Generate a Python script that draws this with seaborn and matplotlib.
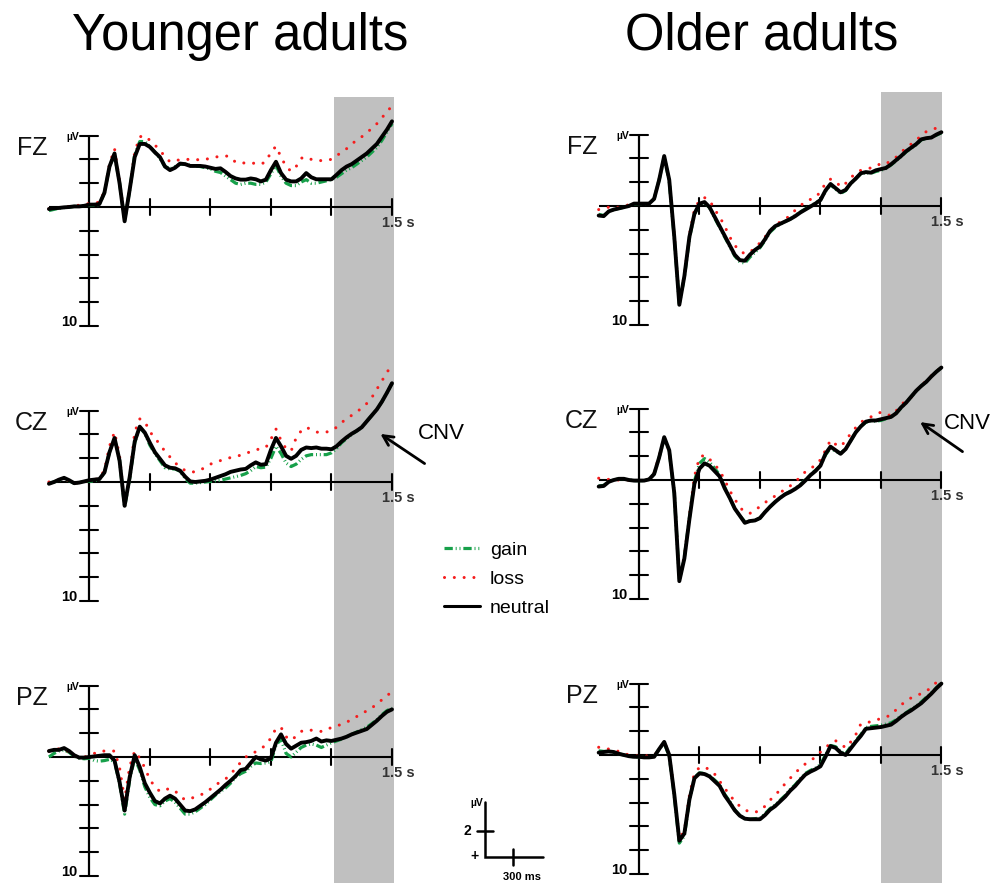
import matplotlib
matplotlib.use("Agg")
import matplotlib.pyplot as plt
from matplotlib.lines import Line2D
import numpy as np
import pandas as pd
import seaborn as sns

sns.set_style("white")
plt.rcParams["font.family"] = ["Liberation Sans", "DejaVu Sans"]
plt.rcParams["text.color"] = "black"

# ---------------- data ----------------
TIMES_MS = list(range(-200, 1525, 25))          # sample times (ms)
CONDITIONS = ["gain", "loss", "neutral"]
GROUPS = ["Younger adults", "Older adults"]
CHANNELS = ["FZ", "CZ", "PZ"]

# amplitudes in µV (negative plotted upward)
YF_gain = [0.3, 0.2, 0.1, 0.05, 0.0, -0.05, -0.05, -0.1, -0.15, -0.15,
           -0.2, -1.2, -3.4, -4.4, -2.0, 1.1, -1.4, -4.4, -5.5, -5.5,
           -5.1, -4.6, -4.1, -3.4, -3.2, -3.4, -3.6, -3.6, -3.5, -3.45,
           -3.4, -3.3, -3.2, -3.0, -2.9, -2.6, -2.3, -2.0, -1.9, -2.0,
           -2.0, -1.9, -1.9, -2.1, -2.8, -3.5, -2.6, -2.0, -1.8, -1.8,
           -2.1, -2.3, -2.0, -2.0, -2.1, -2.2, -2.3, -2.5, -2.8, -3.1,
           -3.3, -3.6, -3.9, -4.2, -4.6, -5.0, -5.6, -6.3, -7.0]
YF_loss = [0.15, 0.1, 0.05, 0.0, -0.05, -0.1, -0.15, -0.2, -0.3, -0.35,
           -0.4, -1.3, -3.6, -4.9, -2.2, 1.1, -1.5, -4.6, -5.9, -6.0,
           -5.6, -5.2, -4.8, -4.2, -3.8, -3.85, -4.0, -4.0, -4.0, -4.0,
           -3.95, -4.0, -4.1, -4.2, -4.25, -4.3, -4.2, -3.75, -3.7, -3.7,
           -3.65, -3.7, -3.6, -3.8, -4.6, -5.1, -4.2, -3.4, -3.0, -3.4,
           -4.1, -4.2, -4.0, -3.9, -3.9, -3.95, -4.0, -4.3, -4.6, -4.9,
           -5.3, -5.6, -5.9, -6.25, -6.6, -7.0, -7.5, -8.0, -8.5]
YF_neutral = [0.17, 0.1, 0.08, 0.03, 0.0, -0.05, -0.05, -0.1, -0.2, -0.2,
              -0.25, -1.2, -3.4, -4.5, -2.0, 1.2, -1.45, -4.2, -5.3, -5.3,
              -5.05, -4.6, -4.2, -3.4, -3.1, -3.3, -3.65, -3.6, -3.45, -3.45,
              -3.45, -3.4, -3.3, -3.2, -3.25, -2.95, -2.6, -2.4, -2.3, -2.3,
              -2.4, -2.33, -2.15, -2.3, -3.1, -3.8, -2.85, -2.3, -2.15, -2.15,
              -2.4, -2.85, -2.5, -2.33, -2.33, -2.33, -2.33, -2.7, -3.1, -3.4,
              -3.6, -3.9, -4.2, -4.5, -4.9, -5.3, -5.9, -6.5, -7.2]

OF_gain = [0.7, 0.8, 0.5, 0.3, 0.2, 0.1, 0.0, -0.15, -0.2, -0.2,
           -0.2, -0.6, -2.2, -4.1, -2.1, 2.7, 8.2, 6.0, 2.7, 0.7,
           -0.15, -0.3, 0.15, 1.0, 1.8, 2.6, 3.4, 4.2, 4.7, 4.8,
           4.3, 3.9, 3.5, 2.9, 2.2, 1.8, 1.55, 1.3, 1.1, 0.8,
           0.5, 0.25, 0.0, -0.25, -0.5, -1.25, -1.8, -1.4, -1.05, -1.3,
           -1.9, -2.3, -2.7, -2.8, -2.75, -2.9, -3.0, -3.15, -3.45, -3.8,
           -4.15, -4.55, -4.85, -5.15, -5.55, -5.7, -5.75, -5.95, -6.15]
OF_loss = [0.3, 0.2, 0.1, 0.15, 0.1, 0.0, -0.1, -0.2, -0.2, -0.2,
           -0.2, -0.6, -2.2, -4.1, -2.1, 2.4, 7.9, 5.8, 2.4, 0.3,
           -0.5, -0.7, -0.5, 0.3, 0.9, 1.7, 2.6, 3.3, 3.8, 4.0,
           3.9, 3.5, 3.1, 2.6, 2.1, 1.6, 1.35, 1.1, 0.8, 0.35,
           0.0, -0.4, -0.55, -0.7, -1.2, -1.9, -2.25, -2.1, -1.6, -1.9,
           -2.4, -2.7, -3.0, -3.1, -3.2, -3.3, -3.6, -3.55, -3.8, -4.1,
           -4.5, -4.9, -5.2, -5.5, -5.95, -6.25, -6.4, -6.55, -6.7]
OF_neutral = [0.8, 0.85, 0.45, 0.3, 0.2, 0.1, 0.0, -0.2, -0.2, -0.2,
              -0.2, -0.6, -2.2, -4.2, -2.2, 2.6, 8.3, 5.9, 2.6, 0.65,
              -0.2, -0.33, 0.1, 0.9, 1.7, 2.5, 3.3, 4.1, 4.55, 4.6,
              4.1, 3.7, 3.4, 2.8, 2.1, 1.7, 1.5, 1.3, 1.1, 0.85,
              0.55, 0.3, 0.05, -0.2, -0.5, -1.3, -1.85, -1.5, -1.15, -1.35,
              -1.9, -2.3, -2.75, -2.85, -2.8, -3.0, -3.1, -3.2, -3.5, -3.85,
              -4.2, -4.6, -4.9, -5.2, -5.6, -5.7, -5.75, -6.0, -6.2]

YC_gain = [0.1, 0.0, -0.15, -0.3, -0.1, 0.1, 0.05, -0.05, -0.05, -0.1,
           -0.2, -0.8, -2.5, -3.6, -1.8, 2.1, -0.3, -3.3, -4.6, -4.1,
           -3.1, -2.4, -1.8, -1.2, -1.1, -1.1, -0.9, -0.3, 0.1, 0.1,
           0.05, 0.0, -0.05, -0.1, -0.15, -0.25, -0.35, -0.45, -0.55, -0.7,
           -0.95, -1.3, -1.2, -1.25, -2.0, -3.0, -2.4, -1.6, -1.3, -1.5,
           -1.9, -2.2, -2.3, -2.3, -2.3, -2.3, -2.45, -2.8, -3.3, -3.65,
           -4.0, -4.3, -4.6, -5.1, -5.6, -6.1, -6.75, -7.5, -8.3]
YC_loss = [0.0, -0.1, -0.2, -0.3, -0.1, 0.1, 0.05, -0.05, -0.1, -0.2,
           -0.3, -1.0, -3.0, -4.2, -2.2, 2.0, -0.4, -4.2, -5.3, -5.1,
           -4.2, -3.75, -3.1, -2.6, -2.1, -1.6, -1.3, -0.95, -0.85, -0.85,
           -1.0, -1.25, -1.5, -1.65, -1.8, -1.95, -2.05, -2.15, -2.25, -2.4,
           -2.55, -2.7, -2.8, -2.9, -3.6, -4.45, -3.5, -2.8, -2.6, -3.7,
           -4.3, -4.6, -4.4, -4.2, -4.15, -4.2, -4.3, -4.6, -5.0, -5.3,
           -5.6, -5.9, -6.2, -6.6, -7.1, -7.8, -8.5, -9.2, -9.9]
YC_neutral = [0.15, 0.0, -0.2, -0.35, -0.15, 0.1, 0.05, -0.05, -0.15, -0.2,
              -0.25, -0.8, -2.5, -3.7, -1.8, 2.0, -0.4, -3.4, -4.65, -4.15,
              -3.3, -2.5, -1.95, -1.4, -1.2, -1.15, -0.95, -0.45, -0.05, 0.0,
              -0.05, -0.1, -0.2, -0.35, -0.5, -0.65, -0.85, -0.95, -1.05, -1.1,
              -1.4, -1.65, -1.45, -1.5, -2.7, -3.7, -3.0, -2.2, -1.95, -2.2,
              -2.7, -2.9, -2.85, -2.9, -2.8, -2.8, -2.75, -3.0, -3.4, -3.75,
              -4.05, -4.3, -4.6, -5.1, -5.6, -6.1, -6.75, -7.5, -8.3]

OC_gain = [0.5, 0.45, 0.15, 0.0, -0.1, -0.1, 0.0, 0.05, 0.05, 0.05,
           -0.05, -0.5, -1.9, -3.5, -2.4, 1.1, 8.4, 6.5, 3.2, 0.1,
           -1.4, -1.8, -1.5, -1.0, -0.4, 0.6, 1.5, 2.4, 3.0, 3.5,
           3.45, 3.4, 3.2, 2.7, 2.25, 1.85, 1.5, 1.2, 0.95, 0.7,
           0.4, 0.0, -0.45, -0.8, -1.2, -2.1, -2.7, -2.4, -2.25, -2.6,
           -3.3, -4.0, -4.5, -4.85, -4.95, -4.95, -5.0, -5.15, -5.3, -5.6,
           -6.05, -6.5, -7.0, -7.45, -7.9, -8.25, -8.7, -9.1, -9.45]
OC_loss = [-0.15, -0.1, -0.05, 0.0, 0.0, 0.0, 0.0, 0.0, 0.05, 0.05,
           -0.1, -0.6, -2.0, -3.6, -2.4, 1.1, 8.2, 6.4, 3.0, -0.3,
           -1.9, -2.1, -1.75, -1.3, -0.8, 0.0, 0.9, 1.6, 2.3, 2.7,
           2.8, 2.6, 2.2, 1.9, 1.6, 1.35, 1.0, 0.85, 0.5, 0.1,
           -0.2, -0.7, -1.0, -1.2, -1.7, -2.5, -3.35, -3.0, -2.8, -3.3,
           -3.9, -4.4, -4.85, -5.1, -5.3, -5.5, -5.7, -5.55, -5.4, -5.8,
           -6.3, -6.7, -6.95, -7.5, -7.9, -8.35, -8.75, -9.1, -9.5]
OC_neutral = [0.55, 0.5, 0.15, 0.0, -0.1, -0.1, 0.0, 0.05, 0.05, 0.05,
              -0.05, -0.5, -1.9, -3.6, -2.5, 1.1, 8.5, 6.6, 3.3, 0.3,
              -0.95, -1.4, -1.2, -0.75, -0.3, 0.7, 1.5, 2.4, 3.0, 3.6,
              3.45, 3.4, 3.2, 2.7, 2.25, 1.85, 1.5, 1.2, 1.0, 0.75,
              0.45, 0.05, -0.4, -0.75, -1.2, -2.2, -2.8, -2.5, -2.2, -2.6,
              -3.3, -4.0, -4.5, -4.9, -5.0, -5.0, -5.1, -5.2, -5.3, -5.6,
              -6.1, -6.5, -7.0, -7.5, -7.9, -8.25, -8.7, -9.1, -9.45]

YP_gain = [0.0, -0.3, -0.5, -0.6, -0.4, -0.05, 0.1, 0.15, 0.1, 0.3,
           0.35, 0.3, 0.2, 0.4, 2.2, 4.8, 1.9, 0.1, 1.1, 2.5,
           3.4, 4.0, 4.1, 3.7, 3.5, 3.8, 4.3, 4.8, 4.8, 4.6,
           4.3, 4.0, 3.6, 3.2, 2.9, 2.6, 2.2, 1.7, 1.4, 1.2,
           0.8, 0.5, 0.55, 0.5, 0.4, -1.0, -1.5, -0.3, 0.0, -0.4,
           -0.8, -1.0, -1.1, -1.0, -0.8, -1.0, -1.2, -1.35, -1.5, -1.7,
           -1.9, -2.1, -2.3, -2.5, -2.8, -3.15, -3.55, -3.9, -4.1]
YP_loss = [-0.5, -0.55, -0.7, -0.7, -0.4, -0.1, 0.0, 0.0, -0.1, -0.3,
           -0.5, -0.5, -0.5, -0.5, 0.9, 3.6, 0.8, -0.5, 0.1, 0.9,
           1.9, 2.5, 2.9, 2.75, 2.65, 2.85, 3.3, 3.6, 3.5, 3.35,
           3.2, 3.0, 2.7, 2.35, 2.1, 1.85, 1.45, 0.95, 0.45, 0.0,
           -0.2, -0.45, -0.7, -1.0, -1.6, -2.4, -2.5, -1.7, -1.4, -1.75,
           -2.15, -2.3, -2.25, -2.2, -2.15, -2.25, -2.5, -2.6, -2.75, -2.95,
           -3.1, -3.4, -3.6, -3.9, -4.1, -4.5, -4.8, -5.2, -5.4]
YP_neutral = [-0.5, -0.6, -0.6, -0.75, -0.5, -0.15, 0.05, 0.05, 0.0, -0.05,
              -0.1, -0.15, -0.15, 0.3, 2.1, 4.5, 1.7, -0.15, 0.85, 2.2,
              3.0, 3.7, 3.9, 3.5, 3.25, 3.5, 4.0, 4.5, 4.55, 4.4,
              4.1, 3.8, 3.45, 3.1, 2.75, 2.35, 2.0, 1.6, 1.1, 1.0,
              0.5, 0.0, 0.2, 0.3, 0.1, -1.2, -1.9, -1.1, -0.7, -0.95,
              -1.2, -1.25, -1.35, -1.55, -1.3, -1.4, -1.35, -1.45, -1.55, -1.7,
              -1.9, -2.05, -2.2, -2.35, -2.7, -3.05, -3.45, -3.8, -4.0]

OP_gain = [-0.35, -0.3, -0.3, -0.2, -0.1, 0.0, 0.1, 0.15, 0.15, 0.2,
           0.2, 0.15, -0.5, -1.0, 0.1, 3.4, 7.4, 6.8, 3.8, 1.9,
           1.5, 1.55, 1.75, 2.1, 2.5, 3.3, 3.9, 4.6, 5.1, 5.35,
           5.4, 5.35, 5.3, 4.95, 4.5, 4.2, 3.8, 3.4, 2.9, 2.5,
           2.0, 1.55, 1.3, 1.1, 0.8, 0.0, -0.8, -0.7, -0.3, -0.1,
           -0.7, -1.2, -1.7, -2.3, -2.4, -2.45, -2.5, -2.6, -2.7, -2.95,
           -3.3, -3.55, -3.85, -4.1, -4.45, -4.85, -5.2, -5.65, -6.05]
OP_loss = [-0.65, -0.55, -0.5, -0.4, -0.3, -0.15, 0.0, 0.05, 0.1, 0.1,
           0.05, 0.05, -0.5, -1.1, -0.1, 3.2, 7.0, 6.4, 3.4, 1.5,
           1.05, 1.0, 1.25, 1.6, 2.2, 2.8, 3.35, 3.9, 4.3, 4.6,
           4.8, 4.8, 4.7, 4.3, 3.8, 3.35, 2.95, 2.4, 1.95, 1.5,
           1.1, 0.75, 0.45, 0.2, -0.25, -0.6, -1.0, -1.2, -0.95, -0.6,
           -1.1, -1.7, -2.6, -2.7, -2.8, -2.95, -3.05, -3.2, -3.35, -3.8,
           -4.2, -4.55, -4.8, -5.0, -5.15, -5.35, -5.7, -6.1, -6.6]
OP_neutral = [-0.2, -0.25, -0.3, -0.25, -0.1, 0.0, 0.1, 0.15, 0.15, 0.2,
              0.2, 0.15, -0.5, -1.1, 0.0, 3.3, 7.2, 6.6, 3.75, 1.95,
              1.55, 1.6, 1.8, 2.2, 2.6, 3.4, 4.0, 4.65, 5.1, 5.35,
              5.4, 5.4, 5.4, 5.05, 4.6, 4.3, 3.9, 3.5, 3.0, 2.6,
              2.1, 1.65, 1.4, 1.2, 0.95, 0.15, -0.75, -0.6, -0.2, 0.0,
              -0.55, -1.1, -1.6, -2.2, -2.25, -2.3, -2.35, -2.45, -2.55, -2.85,
              -3.2, -3.5, -3.75, -4.05, -4.35, -4.75, -5.15, -5.6, -6.0]

PANEL_DATA = {
    ("Younger adults", "FZ"): (YF_gain, YF_loss, YF_neutral),
    ("Younger adults", "CZ"): (YC_gain, YC_loss, YC_neutral),
    ("Younger adults", "PZ"): (YP_gain, YP_loss, YP_neutral),
    ("Older adults", "FZ"): (OF_gain, OF_loss, OF_neutral),
    ("Older adults", "CZ"): (OC_gain, OC_loss, OC_neutral),
    ("Older adults", "PZ"): (OP_gain, OP_loss, OP_neutral),
}

Y_TICKS_UV = [-6, -4, -2, 2, 4, 6, 8, 10]
X_TICKS_MS = [300, 600, 900, 1200, 1500]
X_RANGE_MS = [-200, 1500]
Y_RANGE_UV = [-6, 10]
SHADE_MS = {"Younger adults": (1215, 1510), "Older adults": (1200, 1503)}

# ---------------- style / layout ----------------
W, H = 1003, 883
COLORS = {"gain": "#17a04a", "loss": "#f51d1d", "neutral": "#000000"}
LWS = {"gain": 2.3, "loss": 2.2, "neutral": 2.8}
LSTYLES = {"gain": (0, (2.6, 0.9, 0.3, 0.9, 0.3, 0.9)),
           "loss": (0, (0.01, 3.2)),
           "neutral": "-"}
CAPS = {"gain": "butt", "loss": "round", "neutral": "round"}

COL_GEOM = {"Younger adults": dict(x0=89.3, sx=0.2018, L=0, R=500, top=97,
                                   zeros=[207, 482, 757], title_x=240),
            "Older adults": dict(x0=639.0, sx=0.2016, L=500, R=1003, top=92,
                                 zeros=[206, 480, 755], title_x=762)}
SY = 11.9
ROW_BOUNDS = [345, 620, H]

fig = plt.figure(figsize=(W / 100, H / 100), dpi=100)

axes = {}
for g in GROUPS:
    geo = COL_GEOM[g]
    for r, ch in enumerate(CHANNELS):
        T = geo["top"] if r == 0 else ROW_BOUNDS[r - 1]
        B = ROW_BOUNDS[r]
        L, R = geo["L"], geo["R"]
        y0 = geo["zeros"][r]
        ax = fig.add_axes([L / W, 1 - B / H, (R - L) / W, (B - T) / H])
        ax.set_xlim((L - geo["x0"]) / geo["sx"], (R - geo["x0"]) / geo["sx"])
        ax.set_ylim((B - y0) / SY, (T - y0) / SY)
        ax.axis("off")
        axes[(g, ch)] = ax

        # shaded CNV window
        ax.axvspan(*SHADE_MS[g], color="#c0c0c0", lw=0, zorder=0)

        # custom axes
        ax.plot(X_RANGE_MS, [0, 0], color="black", lw=1.5, zorder=1.5,
                solid_capstyle="butt")
        ax.plot([0, 0], Y_RANGE_UV, color="black", lw=1.6, zorder=1.5,
                solid_capstyle="butt")
        dx = 9 / geo["sx"]
        for yt in Y_TICKS_UV:
            ax.plot([-dx, dx], [yt, yt], color="black", lw=1.5, zorder=1.5)
        dy = 8 / SY
        for xt in X_TICKS_MS:
            ax.plot([xt, xt], [-dy, dy], color="black", lw=1.5, zorder=1.5)

        # labels
        ax.text(-205, -4.4, ch, ha="right", va="baseline", fontsize=18,
                color="#111111")
        ax.text(-48, -5.65, "µV", ha="right", va="baseline", fontsize=7.5,
                fontweight="bold")
        ax.text(-60, 10.0, "10", ha="right", va="baseline", fontsize=10.5,
                fontweight="bold")
        ax.text(1450, 1.65, "1.5 s", ha="left", va="baseline", fontsize=10.5,
                fontweight="bold", color="#333333")

        # ERP traces
        vals = PANEL_DATA[(g, ch)]
        for cond, v in zip(CONDITIONS, vals):
            sns.lineplot(x=TIMES_MS, y=v, ax=ax, color=COLORS[cond],
                         linewidth=LWS[cond], linestyle=LSTYLES[cond],
                         errorbar=None, legend=False, zorder=3)
            ln = ax.lines[-1]
            ln.set_dash_capstyle(CAPS[cond])
            ln.set_solid_capstyle("round")
            ln.set_solid_joinstyle("round")

# titles
for g in GROUPS:
    fig.text(COL_GEOM[g]["title_x"] / W, 1 - 50 / H, g, ha="center",
             va="baseline", fontsize=36.5, color="black")

# CNV annotations
axy = axes[("Younger adults", "CZ")]
axy.annotate("", xy=(1431, -4.17), xytext=(1673, -1.42),
             arrowprops=dict(arrowstyle="->", lw=2.0, color="black",
                             mutation_scale=18))
axy.text(1745, -3.6, "CNV", ha="center", va="baseline", fontsize=16)
axo = axes[("Older adults", "CZ")]
axo.annotate("", xy=(1383, -5.0), xytext=(1616, -2.25),
             arrowprops=dict(arrowstyle="->", lw=2.0, color="black",
                             mutation_scale=18))
axo.text(1630, -4.25, "CNV", ha="center", va="baseline", fontsize=16)

# legend
handles = []
for cond in CONDITIONS:
    h = Line2D([], [], color=COLORS[cond], lw=LWS[cond] if cond != "neutral" else 2.2,
               linestyle=LSTYLES[cond])
    h.set_dash_capstyle(CAPS[cond])
    handles.append(h)
fig.legend(handles, CONDITIONS, loc="upper left",
           bbox_to_anchor=(444 / W, 1 - 541 / H), frameon=False,
           fontsize=14, handlelength=1.85, handletextpad=0.5,
           labelspacing=0.6, borderpad=0, borderaxespad=0)

# scale bar (overlay in pixel units)
ov = fig.add_axes([0, 0, 1, 1])
ov.set_xlim(0, W)
ov.set_ylim(H, 0)
ov.axis("off")
ov.plot([485, 485, 543], [802, 857, 857], color="black", lw=1.8,
        solid_joinstyle="miter")
ov.plot([477, 493], [831, 831], color="black", lw=1.8)
ov.plot([513, 513], [849, 865], color="black", lw=1.8)
ov.text(483, 806, "µV", ha="right", va="baseline", fontsize=7.5, fontweight="bold")
ov.text(471, 831, "2", ha="right", va="center", fontsize=10, fontweight="bold")
ov.text(479, 856, "+", ha="right", va="center", fontsize=10, fontweight="bold")
ov.text(522, 880, "300 ms", ha="center", va="baseline", fontsize=8, fontweight="bold")

fig.savefig("out.png", dpi=100)
